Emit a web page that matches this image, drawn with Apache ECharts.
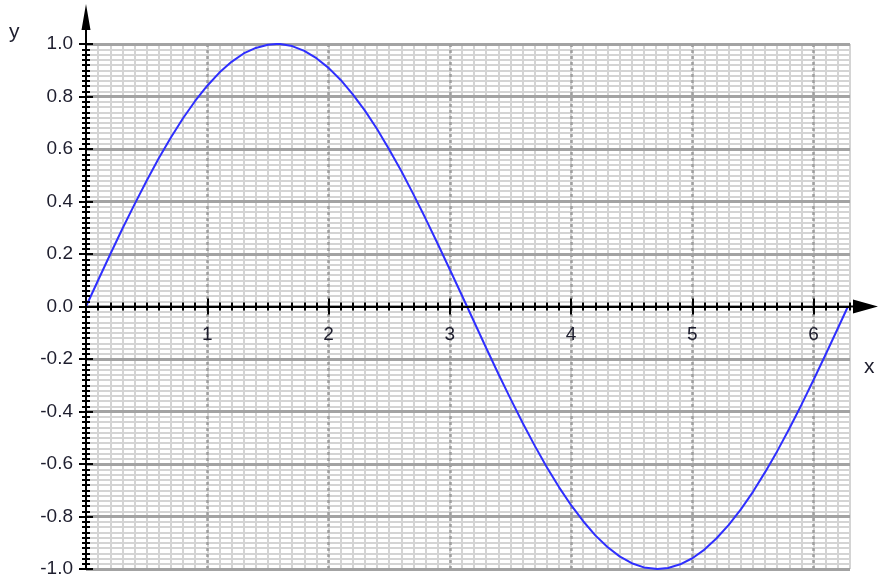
<!DOCTYPE html>
<html>
<head>
<meta charset="utf-8">
<script src="https://cdn.jsdelivr.net/npm/echarts@6/dist/echarts.min.js"></script>
<style>
  html, body { margin: 0; padding: 0; background: #fff; }
  #main { width: 878px; height: 581px; }
</style>
</head>
<body>
<div id="main"></div>
<script>
// values (x, y)
var xValues = [0, 0.1, 0.2, 0.3, 0.4, 0.5, 0.6, 0.7, 0.8, 0.9,
    1.0, 1.1, 1.2, 1.3, 1.4, 1.5, 1.571, 1.6, 1.7, 1.8, 1.9,
    2.0, 2.1, 2.2, 2.3, 2.4, 2.5, 2.6, 2.7, 2.8, 2.9,
    3.0, 3.1, 3.2, 3.3, 3.4, 3.5, 3.6, 3.7, 3.8, 3.9,
    4.0, 4.1, 4.2, 4.3, 4.4, 4.5, 4.6, 4.712, 4.8, 4.9,
    5.0, 5.1, 5.2, 5.3, 5.4, 5.5, 5.6, 5.7, 5.8, 5.9,
    6.0, 6.1, 6.2, 6.283];
var yValues = [0, 0.100, 0.199, 0.296, 0.389, 0.479, 0.565, 0.644, 0.717, 0.783,
    0.841, 0.891, 0.932, 0.964, 0.985, 0.997, 1.000, 1.000, 0.992, 0.974, 0.946,
    0.909, 0.863, 0.808, 0.746, 0.676, 0.598, 0.516, 0.427, 0.335, 0.239,
    0.141, 0.042, -0.058, -0.158, -0.256, -0.351, -0.443, -0.530, -0.612, -0.688,
    -0.757, -0.818, -0.872, -0.916, -0.952, -0.978, -0.994, -1.000, -0.996, -0.982,
    -0.959, -0.926, -0.883, -0.832, -0.773, -0.706, -0.631, -0.551, -0.465, -0.374,
    -0.279, -0.182, -0.083, 0];
var xMajorTicks = [1, 2, 3, 4, 5, 6];
var xMin = 0, xMax = 6.3;
var yMin = -1, yMax = 1;

var gridTop = 44, gridBottom = 12, chartH = 581;
var gridH = chartH - gridTop - gridBottom;
// in v6 the labels of an onZero axis stay at the grid edge, so lift a label-only axis to y = 0
var zeroLift = gridH * (0 - yMin) / (yMax - yMin);

var myChart = echarts.init(document.getElementById('main'));

var labelFont = { color: '#1e1e2e', fontSize: 19, fontFamily: 'Liberation Sans, Arial, sans-serif' };

// plain axis, everything off; each copy below switches on one job
function xAx(o) {
    return Object.assign({
        type: 'value', min: xMin, max: xMax, interval: 0.1,
        axisLine: { show: false, onZero: true },
        axisTick: { show: false }, axisLabel: { show: false }, splitLine: { show: false }
    }, o);
}
function yAx(o) {
    return Object.assign({
        type: 'value', min: yMin, max: yMax, interval: 0.02,
        axisLine: { show: false, onZero: true },
        axisTick: { show: false }, axisLabel: { show: false }, splitLine: { show: false }
    }, o);
}

var data = xValues.map(function (x, i) { return [x, yValues[i]]; });

var option = {
    animation: false,
    grid: { left: 86, top: gridTop, right: 28, bottom: gridBottom, outerBoundsMode: 'none' },
    xAxis: [
        // minor vertical grid
        xAx({ z: 0, splitLine: { show: true, lineStyle: { color: '#d4d4d4', width: 2 } } }),
        // major dashed vertical grid + long ticks down
        xAx({
            z: 1, interval: 1, position: 'bottom',
            axisTick: { show: true, customValues: xMajorTicks, length: 8, lineStyle: { color: '#000', width: 2 } },
            splitLine: { show: true, lineStyle: { color: '#a0a0a0', width: 2.5, type: [3, 3] } }
        }),
        // long ticks up
        xAx({
            z: 1, interval: 1, position: 'top',
            axisTick: { show: true, customValues: xMajorTicks, length: 8, lineStyle: { color: '#000', width: 2 } }
        }),
        // axis line, small ticks down
        xAx({
            z: 5, position: 'bottom',
            axisLine: { show: true, onZero: true, lineStyle: { color: '#000', width: 2 },
                symbol: ['none', 'path://M7 0 L14 25 L8 25 L8 28 L6 28 L6 25 L0 25 Z'],
                symbolSize: [14, 28], symbolOffset: [0, 14] },
            axisTick: { show: true, length: 4, lineStyle: { color: '#000', width: 2 } }
        }),
        // small ticks up
        xAx({
            z: 5, position: 'top',
            axisTick: { show: true, length: 4, lineStyle: { color: '#000', width: 2 } }
        }),
        // tick labels under the zero line
        xAx({
            z: 5, position: 'bottom', offset: -zeroLift,
            axisLine: { show: false, onZero: false },
            axisLabel: Object.assign({ show: true, margin: 19, customValues: xMajorTicks }, labelFont)
        })
    ],
    yAxis: [
        // minor horizontal grid
        yAx({ z: 0, splitLine: { show: true, lineStyle: { color: '#d4d4d4', width: 2 } } }),
        // major horizontal grid
        yAx({ z: 1, interval: 0.2, splitLine: { show: true, lineStyle: { color: '#a3a3a3', width: 3 } } }),
        // ticks to the right of the axis
        yAx({
            z: 5, interval: 0.2, position: 'right',
            axisTick: { show: true, length: 7, lineStyle: { color: '#000', width: 2 } },
            minorTick: { show: true, splitNumber: 10, length: 4, lineStyle: { color: '#000', width: 2 } }
        }),
        // axis line, ticks to the left, labels
        yAx({
            z: 5, interval: 0.2, position: 'left',
            axisLine: { show: true, onZero: true, lineStyle: { color: '#000', width: 2 },
                symbol: ['none', 'path://M4.5 0 L9 26 L5.5 26 L5.5 40 L3.5 40 L3.5 26 L0 26 Z'],
                symbolSize: [9, 40], symbolOffset: [0, 20] },
            axisTick: { show: true, length: 7, lineStyle: { color: '#000', width: 2 } },
            minorTick: { show: true, splitNumber: 10, length: 4, lineStyle: { color: '#000', width: 2 } },
            axisLabel: Object.assign({
                show: true, margin: 13,
                formatter: function (v) { return v.toFixed(1); }
            }, labelFont)
        }),
        yAx({ z: 0 })
    ],
    graphic: [
        { type: 'text', left: 9, top: 22, style: { text: 'y', fill: '#1e1e2e', font: '21px Liberation Sans, Arial, sans-serif' } },
        { type: 'text', left: 864, top: 357, style: { text: 'x', fill: '#1e1e2e', font: '21px Liberation Sans, Arial, sans-serif' } }
    ],
    series: [
        {
            type: 'line',
            xAxisIndex: 3,
            yAxisIndex: 3,
            data: data,
            showSymbol: false,
            clip: false,
            z: 3,
            lineStyle: { color: '#2f2fff', width: 2 }
        }
    ]
};

myChart.setOption(option);
</script>
</body>
</html>
